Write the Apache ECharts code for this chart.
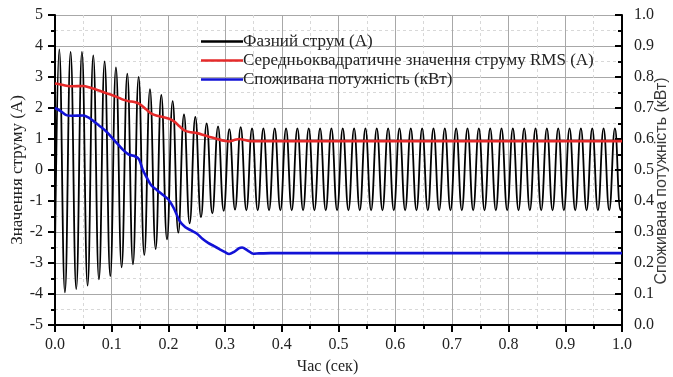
<!DOCTYPE html>
<html>
<head>
<meta charset="utf-8">
<script src="https://cdn.jsdelivr.net/npm/echarts@6/dist/echarts.min.js"></script>
<style>
html,body{margin:0;padding:0;background:#fff;}
#chart{width:673px;height:377px;}
</style>
</head>
<body>
<div id="chart"></div>
<script>
// ---- data ----
const seriesNames = ['Фазний струм (А)', 'Середньоквадратичне значення струму RMS (А)', 'Споживана потужність (кВт)'];
const xTicks = [0.0, 0.1, 0.2, 0.3, 0.4, 0.5, 0.6, 0.7, 0.8, 0.9, 1.0];

// phase current: one positive peak and one negative trough per 50 Hz cycle (A)
const phasePeaks = [3.89, 3.81, 3.81, 3.70, 3.50, 3.31, 3.11, 3.00, 2.61, 2.42,
                    2.22, 1.79, 1.71, 1.50, 1.41, 1.32, 1.38, 1.34, 1.34, 1.34,
                    1.34, 1.34, 1.34, 1.34, 1.34, 1.34, 1.34, 1.34, 1.34, 1.34,
                    1.34, 1.34, 1.34, 1.34, 1.34, 1.34, 1.34, 1.34, 1.34, 1.34,
                    1.34, 1.34, 1.34, 1.34, 1.34, 1.34, 1.34, 1.34, 1.34, 1.34];
const phaseTroughs = [-3.95, -3.84, -3.73, -3.53, -3.42, -3.14, -3.04, -2.74, -2.55, -2.24,
                      -2.02, -1.72, -1.52, -1.40, -1.32, -1.28, -1.30, -1.30, -1.30, -1.30,
                      -1.30, -1.30, -1.30, -1.30, -1.30, -1.30, -1.30, -1.30, -1.30, -1.30,
                      -1.30, -1.30, -1.30, -1.30, -1.30, -1.30, -1.30, -1.30, -1.30, -1.30,
                      -1.30, -1.30, -1.30, -1.30, -1.30, -1.30, -1.30, -1.30, -1.30, -1.30];
const phaseStart = [0.0, -2.6];
const phaseEnd = [1.0, -1.2];
const firstPeakTime = 0.0075;
const cyclePeriod = 0.02;

// RMS current (A)
const rmsTime = [0, 0.01, 0.02, 0.03, 0.05, 0.06, 0.07, 0.08, 0.09, 0.10, 0.11, 0.12, 0.13, 0.14, 0.15, 0.16, 0.17, 0.18, 0.19, 0.20, 0.21, 0.22, 0.23, 0.24, 0.25, 0.26, 0.27, 0.28, 0.29, 0.30, 0.307, 0.315, 0.325, 0.335, 0.345, 0.36, 1.0];
const rmsValue = [2.79, 2.76, 2.72, 2.70, 2.71, 2.67, 2.61, 2.55, 2.48, 2.42, 2.35, 2.27, 2.22, 2.19, 2.12, 1.97, 1.82, 1.75, 1.71, 1.66, 1.57, 1.40, 1.26, 1.22, 1.19, 1.14, 1.08, 1.03, 0.98, 0.94, 0.92, 0.96, 1.00, 0.97, 0.93, 0.93, 0.93];

// consumed power (kW)
const powerTime = [0, 0.01, 0.02, 0.03, 0.05, 0.06, 0.07, 0.08, 0.09, 0.10, 0.11, 0.12, 0.13, 0.14, 0.148, 0.155, 0.162, 0.17, 0.18, 0.19, 0.20, 0.21, 0.22, 0.23, 0.24, 0.25, 0.26, 0.27, 0.28, 0.29, 0.30, 0.307, 0.315, 0.325, 0.33, 0.34, 0.35, 0.36, 0.38, 1.0];
const powerValue = [0.70, 0.69, 0.677, 0.675, 0.676, 0.668, 0.655, 0.64, 0.625, 0.605, 0.585, 0.565, 0.55, 0.545, 0.535, 0.50, 0.475, 0.45, 0.435, 0.42, 0.405, 0.375, 0.335, 0.315, 0.305, 0.295, 0.278, 0.265, 0.255, 0.245, 0.235, 0.229, 0.235, 0.248, 0.25, 0.24, 0.23, 0.231, 0.232, 0.232];

// ---- build series data ----
const phaseData = [phaseStart];
for (let k = 0; k < phasePeaks.length; k++) {
  phaseData.push([firstPeakTime + k * cyclePeriod, phasePeaks[k]]);
  phaseData.push([firstPeakTime + k * cyclePeriod + cyclePeriod / 2, phaseTroughs[k]]);
}
phaseData.push(phaseEnd);
const rmsData = rmsTime.map((t, i) => [t, rmsValue[i]]);
const powerData = powerTime.map((t, i) => [t, powerValue[i]]);

const FONT = 'Liberation Serif';
const txt = {fontFamily: FONT, fontSize: 16, color: '#222'};
const majorGrid = {show: true, lineStyle: {color: '#a8a8a8', width: 1, type: 'solid'}};
const minorGrid = {show: true, lineStyle: {color: '#d8d8d8', width: 1, type: [3, 3]}};
const axisLineStyle = {show: true, onZero: false, lineStyle: {color: '#000', width: 2}};

const chart = echarts.init(document.getElementById('chart'), null, {renderer: 'canvas'});
chart.setOption({
  backgroundColor: '#fff',
  animation: false,
  grid: {left: 55, right: 51, top: 15, bottom: 52, containLabel: false, outerBoundsMode: 'none'},
  legend: {
    orient: 'vertical',
    left: 196, top: 28,
    itemWidth: 42, itemHeight: 15, itemGap: 2,
    textStyle: {fontFamily: FONT, fontSize: 17, color: '#222', padding: [0, 0, 0, -5]},
    data: seriesNames.map(n => ({name: n, icon: 'path://M0,0L42,0L42,2.4L0,2.4Z'}))
  },
  xAxis: {
    type: 'value', min: 0, max: 1, interval: 0.1,
    name: 'Час (сек)', nameLocation: 'middle', nameGap: 34, nameMoveOverlap: false,
    nameTextStyle: {...txt, padding: [0, 22, 0, 0]},
    axisLine: axisLineStyle,
    axisTick: {show: true, inside: false, length: 7, lineStyle: {color: '#000', width: 2}},
    minorTick: {show: true, splitNumber: 2, length: 4, lineStyle: {color: '#000', width: 2}},
    splitLine: majorGrid,
    minorSplitLine: minorGrid,
    axisLabel: {...txt, margin: 12, formatter: v => v.toFixed(1)}
  },
  yAxis: [{
    type: 'value', min: -5, max: 5, interval: 1, position: 'left',
    name: 'Значення струму (А)', nameLocation: 'middle', nameGap: 29, nameRotate: 90, nameMoveOverlap: false,
    nameTextStyle: {...txt, fontSize: 17},
    axisLine: axisLineStyle,
    axisTick: {show: true, inside: false, length: 7, lineStyle: {color: '#000', width: 2}},
    minorTick: {show: true, splitNumber: 2, length: 4, lineStyle: {color: '#000', width: 2}},
    splitLine: majorGrid,
    minorSplitLine: minorGrid,
    axisLabel: {...txt, margin: 12}
  }, {
    type: 'value', min: 0, max: 1, interval: 0.1, position: 'right',
    name: 'Споживана потужність (кВт)', nameLocation: 'middle', nameGap: 32, nameRotate: 90, nameMoveOverlap: false,
    nameTextStyle: {...txt, fontFamily: 'Liberation Sans', fontSize: 16, color: '#3a3a3a', padding: [0, 22, 0, 0]},
    axisLine: axisLineStyle,
    axisTick: {show: true, inside: true, length: 7, lineStyle: {color: '#000', width: 2}},
    minorTick: {show: true, splitNumber: 2, length: 4, lineStyle: {color: '#000', width: 2}},
    splitLine: {show: false},
    axisLabel: {...txt, margin: 12, formatter: v => v.toFixed(1)}
  }],
  series: [{
    name: seriesNames[0], type: 'line', yAxisIndex: 0, data: phaseData,
    smooth: 0.45, showSymbol: false, symbol: 'none',
    lineStyle: {color: '#000', width: 1.8}, itemStyle: {color: '#000'}, z: 2
  }, {
    name: seriesNames[1], type: 'line', yAxisIndex: 0, data: rmsData,
    smooth: 0.3, showSymbol: false, symbol: 'none',
    lineStyle: {color: '#e52a2a', width: 2.6}, itemStyle: {color: '#e52a2a'}, z: 3
  }, {
    name: seriesNames[2], type: 'line', yAxisIndex: 1, data: powerData,
    smooth: 0.3, showSymbol: false, symbol: 'none',
    lineStyle: {color: '#1212d6', width: 2.6}, itemStyle: {color: '#1212d6'}, z: 3
  }]
});
</script>
</body>
</html>
